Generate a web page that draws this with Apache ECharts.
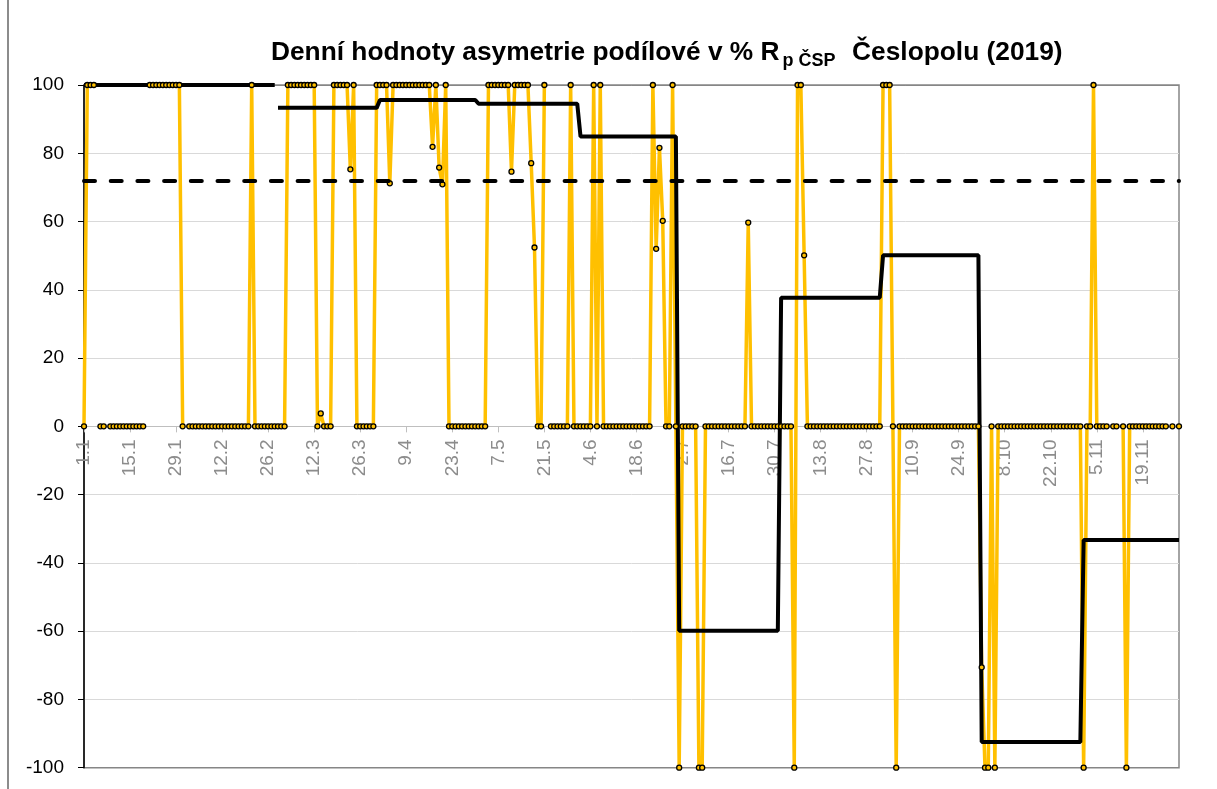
<!DOCTYPE html>
<html>
<head>
<meta charset="utf-8">
<script src="https://cdn.jsdelivr.net/npm/echarts@6/dist/echarts.min.js"></script>
<style>
  html, body { margin: 0; padding: 0; background: #fff; }
  #chart { width: 1217px; height: 789px; }
</style>
</head>
<body>
<div id="chart"></div>
<script>
// denni hodnoty (%), prazdne dny = null
var jan = [0, 100, 100, 100, null, 0, 0, null, 0, 0, 0, 0, 0, 0, 0, 0, 0, 0, 0, null,
  100, 100, 100, 100, 100, 100, 100, 100, 100, 100, 0];
var feb = [null, 0, 0, 0, 0, 0, 0, 0, 0, 0, 0, 0, 0, 0, 0, 0, 0, 0, 0, 0,
  100, 0, 0, 0, 0, 0, 0, 0];
var mar = [0, 0, 0, 100, 100, 100, 100, 100, 100, 100, 100, 100, 0, 3.8, 0, 0, 0,
  100, 100, 100, 100, 100, 75.3, 100, 0, 0, 0, 0, 0, 0, 100];
var apr = [100, 100, 100, 71.2, 100, 100, 100, 100, 100, 100, 100, 100, 100, 100, 100, 100,
  81.9, 100, 75.8, 70.9, 100, 0, 0, 0, 0, 0, 0, 0, 0, 0];
var may = [0, 0, 0, 100, 100, 100, 100, 100, 100, 100, 74.6, 100, 100, 100, 100, 100,
  77.1, 52.4, 0, 0, 100, null, 0, 0, 0, 0, 0, 0, 100, 0, 0];
var jun = [0, 0, 0, 0, 100, 0, 100, 0, 0, 0, 0, 0, 0, 0, 0, 0, 0, 0, 0, 0, 0, 0,
  100, 52, 81.6, 60.2, 0, 0, 100, 0];
var jul = [-100, 0, 0, 0, 0, 0, -100, -100, 0, 0, 0, 0, 0, 0, 0, 0, 0, 0, 0, 0, 0,
  59.7, 0, 0, 0, 0, 0, 0, 0, 0, 0];
var aug = [0, 0, 0, 0, -100, 100, 100, 50.1, 0, 0, 0, 0, 0, 0, 0, 0, 0, 0, 0, 0, 0,
  0, 0, 0, 0, 0, 0, 0, 0, 0, 0];
var sep = [100, 100, 100, 0, -100, 0, 0, 0, 0, 0, 0, 0, 0, 0, 0, 0, 0, 0, 0, 0, 0,
  0, 0, 0, 0, 0, 0, 0, 0, 0];
var oct = [-70.6, -100, -100, 0, -100, 0, 0, 0, 0, 0, 0, 0, 0, 0, 0, 0, 0, 0, 0, 0, 0,
  0, 0, 0, 0, 0, 0, 0, 0, 0, 0];
var nov = [-100, 0, 0, 100, 0, 0, 0, 0, null, 0, 0, null, 0, -100, 0, 0, 0, 0, 0, 0,
  0, 0, 0, 0, 0, 0, null, 0, null, 0];

// mesicni hodnoty (cerna cara), leden-unor spolecne
var monthDays = [31, 28, 31, 30, 31, 30, 31, 31, 30, 31, 30];
var monthMean = [100, 100, 93.3, 95.6, 94.5, 84.9, -59.9, 37.7, 50.1, -92.5, -33.3];
var yearMean = 71.9;
var yTicks = [-100, -80, -60, -40, -20, 0, 20, 40, 60, 80, 100];

var daily = jan.concat(feb, mar, apr, may, jun, jul, aug, sep, oct, nov);

var days = [];
var blackA = [], blackB = [];
for (var m = 0; m < monthDays.length; m++) {
  for (var d = 1; d <= monthDays[m]; d++) {
    days.push(d + '.' + (m + 1));
    if (m < 2) {
      blackA.push(monthMean[m]);
      blackB.push(null);
    } else {
      blackA.push(null);
      blackB.push(monthMean[m]);
    }
  }
}

var gridTop = 85, gridBottom = 767.7;
// osa x lezi na nule -> posun od spodku grafu
var zeroOffset = -(gridBottom - gridTop) / 2;

var chart = echarts.init(document.getElementById('chart'));
var option = {
  animation: false,
  backgroundColor: '#fff',
  title: {
    left: 266,
    top: 31,
    text: '{a|Denní hodnoty asymetrie podílové v % R}{s|p ČSP}{a|  Česlopolu (2019)}',
    textStyle: {
      rich: {
        a: { fontSize: 26.3, fontWeight: 'bold', fontFamily: 'Arial', color: '#000', lineHeight: 34 },
        s: { fontSize: 18, fontWeight: 'bold', fontFamily: 'Arial', color: '#000',
             lineHeight: 12, verticalAlign: 'bottom', padding: [0, 2, 0, 3] }
      }
    }
  },
  graphic: [{
    type: 'line',
    shape: { x1: 8, y1: 0, x2: 8, y2: 789 },
    style: { stroke: '#8c8c8c', lineWidth: 2 }
  }],
  grid: {
    left: 84,
    right: 38,
    top: gridTop,
    bottom: 789 - gridBottom,
    outerBoundsMode: 'none',
    containLabel: false,
    show: true,
    borderColor: '#868686',
    borderWidth: 1.5
  },
  xAxis: {
    type: 'category',
    data: days,
    boundaryGap: false,
    position: 'bottom',
    offset: zeroOffset,
    axisLine: { onZero: false, lineStyle: { color: '#bfbfbf', width: 1 } },
    axisTick: { show: true, interval: 13, length: 6, lineStyle: { color: '#bfbfbf' } },
    axisLabel: {
      interval: 13,
      rotate: 90,
      margin: 13,
      fontSize: 19,
      fontFamily: 'Arial',
      color: '#8c8c8c'
    },
    splitLine: { show: false }
  },
  yAxis: {
    type: 'value',
    min: -100,
    max: 100,
    interval: 20,
    axisLine: { show: true, lineStyle: { color: '#000', width: 1.5 } },
    axisTick: { show: true, length: 6, lineStyle: { color: '#000' } },
    axisLabel: { fontSize: 19, fontFamily: 'Arial', color: '#000', margin: 20 },
    splitLine: {
      lineStyle: {
        color: yTicks.map(function (t) { return Math.abs(t) === 100 ? '#868686' : '#d9d9d9'; }),
        width: 1
      }
    }
  },
  series: [
    {
      name: 'denni',
      type: 'line',
      data: daily,
      clip: false,
      connectNulls: false,
      showAllSymbol: true,
      symbol: 'circle',
      symbolSize: 5,
      lineStyle: { color: '#FFC000', width: 3.5 },
      itemStyle: { color: '#FFC000', borderColor: '#000', borderWidth: 1.3 }
    },
    {
      name: 'mesic1',
      type: 'line',
      data: blackA,
      clip: false,
      symbol: 'none',
      lineStyle: { color: '#000', width: 4 }
    },
    {
      name: 'mesic2',
      type: 'line',
      data: blackB,
      clip: false,
      symbol: 'none',
      lineStyle: { color: '#000', width: 4 },
      markLine: {
        silent: true,
        symbol: 'none',
        label: { show: false },
        lineStyle: { color: '#000', width: 4, type: [11, 15.7], cap: 'round' },
        data: [{ yAxis: yearMean }]
      }
    }
  ]
};
chart.setOption(option);
</script>
</body>
</html>
